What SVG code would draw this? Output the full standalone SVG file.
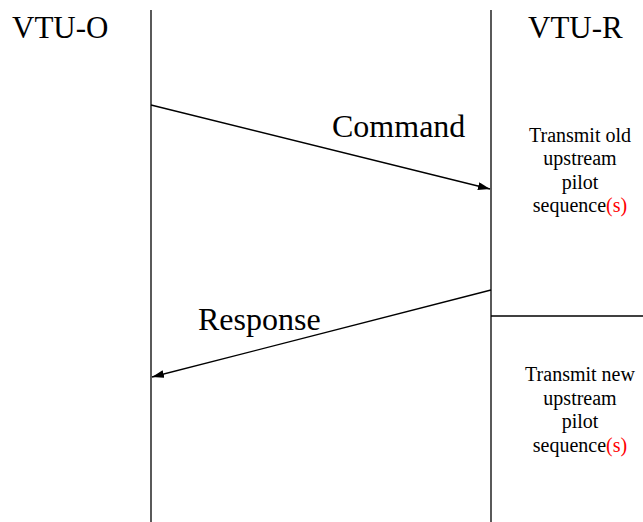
<svg xmlns="http://www.w3.org/2000/svg" width="643" height="522" viewBox="0 0 643 522">
<style>
text{font-family:"Liberation Serif",Tinos,"Times New Roman",serif;fill:#000}
.big{font-size:31px}
.mid{font-size:32px}
.sm{font-size:20px;text-anchor:middle}
.r{fill:#ff0000}
.ln{stroke:#000;stroke-width:1.3;fill:none}
</style>
<defs>
<marker id="ah" markerWidth="12" markerHeight="8" refX="12" refY="4" orient="auto" markerUnits="userSpaceOnUse">
<path d="M0,0 L12,4 L0,8 Z" fill="#000"/>
</marker>
</defs>
<rect width="643" height="522" fill="#fff"/>
<g id="vtu-o">
<line class="ln" x1="151" y1="10" x2="151" y2="522"/>
<text class="big" x="12" y="38" font-family="Liberation Serif, serif">VTU-O</text>
</g>
<g id="vtu-r">
<line class="ln" x1="491" y1="10" x2="491" y2="522"/>
<text class="big" x="528" y="38" font-family="Liberation Serif, serif">VTU-R</text>
</g>
<g id="old-seq">
<text class="sm" x="580" y="142" font-family="Liberation Serif, serif">Transmit old</text>
<text class="sm" x="580" y="165" font-family="Liberation Serif, serif">upstream</text>
<text class="sm" x="580" y="189" font-family="Liberation Serif, serif">pilot</text>
<text class="sm" x="580" y="212" font-family="Liberation Serif, serif">sequence<tspan class="r">(s)</tspan></text>
</g>
<g id="divider">
<line class="ln" x1="491" y1="316" x2="643" y2="316"/>
</g>
<g id="new-seq">
<text class="sm" x="580" y="381" font-family="Liberation Serif, serif">Transmit new</text>
<text class="sm" x="580" y="405" font-family="Liberation Serif, serif">upstream</text>
<text class="sm" x="580" y="428" font-family="Liberation Serif, serif">pilot</text>
<text class="sm" x="580" y="452" font-family="Liberation Serif, serif">sequence<tspan class="r">(s)</tspan></text>
</g>
<g id="connectors">
<line class="ln" x1="151" y1="105" x2="490" y2="189" marker-end="url(#ah)"/>
<text class="mid" x="332" y="137" font-family="Liberation Serif, serif">Command</text>
<line class="ln" x1="491" y1="290" x2="152" y2="377" marker-end="url(#ah)"/>
<text class="mid" x="198" y="330" font-family="Liberation Serif, serif">Response</text>
</g>
</svg>
